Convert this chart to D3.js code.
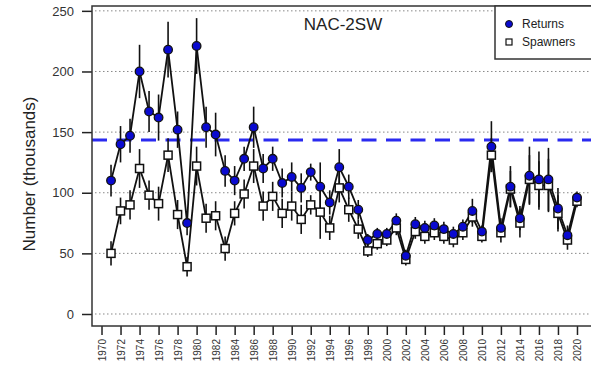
<!DOCTYPE html>
<html><head><meta charset="utf-8">
<script src="https://cdn.jsdelivr.net/npm/d3@7"></script>
<style>body{margin:0;background:#fff;}svg{display:block;font-family:"Liberation Sans",Arial,sans-serif;}</style>
</head><body>
<script>
const years = [1971,1972,1973,1974,1975,1976,1977,1978,1979,1980,1981,1982,1983,1984,1985,1986,1987,1988,1989,1990,1991,1992,1993,1994,1995,1996,1997,1998,1999,2000,2001,2002,2003,2004,2005,2006,2007,2008,2009,2010,2011,2012,2013,2014,2015,2016,2017,2018,2019,2020];
const returns = [110,140,147,200,167,162,218,152,75,221,154,148,118,110,128,154,120,128,108,113,104,117,105,92,121,105,86,61,66,66,77,48,74,71,73,70,66,72,85,68,138,71,105,79,114,111,111,87,65,96];
const returnsErr = [13,15,14,22,17,19,23,15,10,23,17,18,13,12,10,17,12,10,12,12,12,7,20,10,15,10,8,5,5,5,6,5,6,6,6,6,6,6,10,5,21,8,17,10,24,23,26,17,8,5];
const spawners = [50,85,90,120,98,91,131,82,39,122,79,81,54,83,99,122,89,97,83,89,78,90,84,71,104,86,70,52,58,61,71,45,68,64,67,64,61,67,80,64,131,67,103,75,111,106,106,83,61,93];
const spawnersErr = [10,11,12,16,12,14,14,12,8,16,12,12,10,10,12,14,12,12,12,12,12,8,22,10,12,10,8,5,5,5,6,5,6,6,6,6,6,6,8,5,14,8,15,12,20,20,22,15,8,5];
const yTicks = [0,50,100,150,200,250];
const xTicks = [1970,1972,1974,1976,1978,1980,1982,1984,1986,1988,1990,1992,1994,1996,1998,2000,2002,2004,2006,2008,2010,2012,2014,2016,2018,2020];
const reference = 143.5;
const title = "NAC-2SW";
const yLabel = "Number (thousands)";
const legendLabels = ["Returns","Spawners"];

const W = 591, H = 374;
const L = 92, R = 596, T = 6, B = 326;
const svg = d3.select("body").append("svg").attr("width", W).attr("height", H);
const x = d3.scaleLinear().domain([1969, 2022]).range([L, R]);
const y = d3.scaleLinear().domain([-9.9, 254]).range([B, T]);

// grid
svg.append("g").selectAll("line").data(yTicks).join("line")
  .attr("x1", L + 3).attr("x2", R).attr("y1", d => y(d)).attr("y2", d => y(d))
  .attr("stroke", "#888").attr("stroke-width", 1).attr("stroke-dasharray", "1.5,2.5");

// reference line
svg.append("line").attr("x1", L).attr("x2", R).attr("y1", y(reference)).attr("y2", y(reference))
  .attr("stroke", "#2a2af0").attr("stroke-width", 3).attr("stroke-dasharray", "15,9.5");

// axes
const yAxis = d3.axisLeft(y).tickValues(yTicks).tickSize(10).tickPadding(8).tickFormat(d3.format("d"));
const gy = svg.append("g").attr("transform", `translate(${L},0)`).call(yAxis);
gy.select(".domain").remove();
gy.selectAll("line").attr("stroke", "#222").attr("stroke-width", 1.5);
gy.selectAll("text").attr("font-size", 13).attr("fill", "#333").attr("font-family", "Liberation Sans, Arial, sans-serif");

const xAxis = d3.axisBottom(x).tickValues(xTicks).tickSize(9).tickFormat(d3.format("d"));
const gx = svg.append("g").attr("transform", `translate(0,${B})`).call(xAxis);
gx.select(".domain").remove();
gx.selectAll("line").attr("stroke", "#222").attr("stroke-width", 1.5);
gx.selectAll("text").attr("font-size", 10).attr("fill", "#333").attr("font-family", "Liberation Sans, Arial, sans-serif")
  .attr("transform", "rotate(-90)").attr("text-anchor", "end").attr("dy", "0.35em").attr("x", -13).attr("y", 0);

// box
svg.append("rect").attr("x", L).attr("y", T).attr("width", R - L).attr("height", B - T)
  .attr("fill", "none").attr("stroke", "#333").attr("stroke-width", 1.5);

// y label
svg.append("text").attr("transform", `translate(35,${(T + B) / 2 + 8}) rotate(-90)`)
  .attr("text-anchor", "middle").attr("font-size", 17).attr("fill", "#222").text(yLabel);

// title
svg.append("text").attr("x", 343).attr("y", 30).attr("text-anchor", "middle")
  .attr("font-size", 17).attr("fill", "#222").text(title);

const dataR = years.map((yr, i) => ({yr, v: returns[i], e: returnsErr[i]}));
const dataS = years.map((yr, i) => ({yr, v: spawners[i], e: spawnersErr[i]}));
const line = d3.line().x(d => x(d.yr)).y(d => y(d.v));

// error bars
[dataR, dataS].forEach(ds => {
  svg.append("g").selectAll("line").data(ds).join("line")
    .attr("x1", d => x(d.yr)).attr("x2", d => x(d.yr))
    .attr("y1", d => y(d.v - d.e)).attr("y2", d => y(d.v + d.e))
    .attr("stroke", "#111").attr("stroke-width", 1.6);
});

// lines
svg.append("path").datum(dataR).attr("d", line).attr("fill", "none").attr("stroke", "#111").attr("stroke-width", 1.8);
svg.append("path").datum(dataS).attr("d", line).attr("fill", "none").attr("stroke", "#111").attr("stroke-width", 1.8);

// markers
svg.append("g").selectAll("rect").data(dataS).join("rect")
  .attr("x", d => x(d.yr) - 4).attr("y", d => y(d.v) - 4).attr("width", 8).attr("height", 8)
  .attr("fill", "#fff").attr("stroke", "#111").attr("stroke-width", 1.5);
svg.append("g").selectAll("circle").data(dataR).join("circle")
  .attr("cx", d => x(d.yr)).attr("cy", d => y(d.v)).attr("r", 4.3)
  .attr("fill", "#0a0ad0").attr("stroke", "#111").attr("stroke-width", 1.3);

// legend
const lg = svg.append("g");
lg.append("rect").attr("x", 495).attr("y", T).attr("width", 110).attr("height", 53)
  .attr("fill", "#fff").attr("stroke", "#333").attr("stroke-width", 1.5);
lg.append("circle").attr("cx", 509).attr("cy", 24).attr("r", 3.5).attr("fill", "#0a0ad0").attr("stroke", "#111").attr("stroke-width", 1);
lg.append("rect").attr("x", 506).attr("y", 39).attr("width", 6).attr("height", 6).attr("fill", "#fff").attr("stroke", "#111").attr("stroke-width", 1.2);
lg.selectAll("text").data(legendLabels).join("text")
  .attr("x", 522).attr("y", (d, i) => 28 + i * 18).attr("font-size", 12).attr("fill", "#222").text(d => d);
</script>
</body></html>
